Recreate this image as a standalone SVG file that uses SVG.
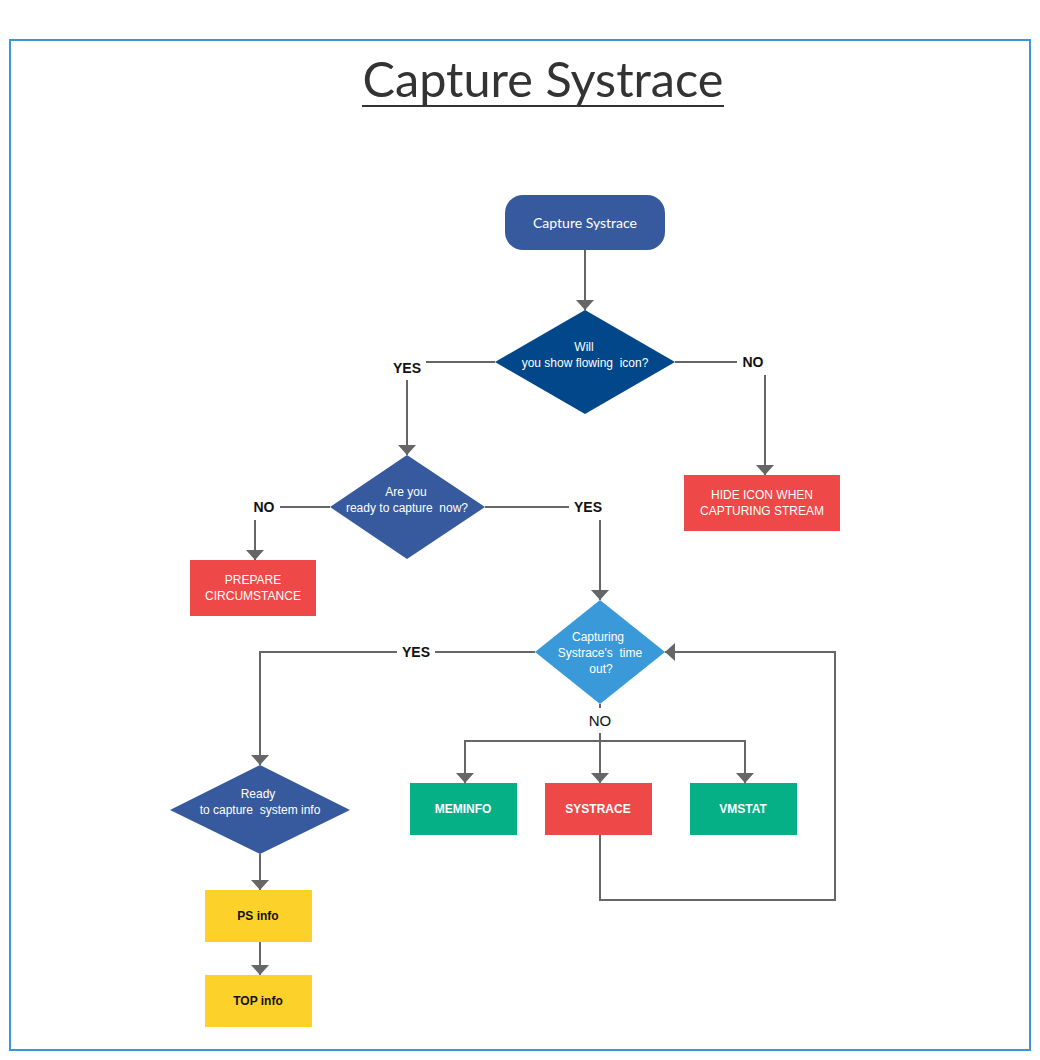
<svg xmlns="http://www.w3.org/2000/svg" width="1040" height="1060" viewBox="0 0 1040 1060">
<defs>
<style>
.ln{fill:none;stroke:#666;stroke-width:2}
.t{font-family:"Liberation Sans",Arial,sans-serif;font-size:12px;fill:#fff;text-anchor:middle}
.tb{font-family:"Liberation Sans",Arial,sans-serif;font-size:12px;font-weight:bold;text-anchor:middle}
.lbl{font-family:"Liberation Sans",Arial,sans-serif;font-size:14px;font-weight:bold;fill:#111;text-anchor:middle}
</style>
<marker id="ah" viewBox="0 0 10 18" refX="10" refY="9" markerWidth="10" markerHeight="18" markerUnits="userSpaceOnUse" orient="auto">
<path d="M0,0 L10,9 L0,18 z" fill="#666"/>
</marker>
</defs>
<rect x="0" y="0" width="1040" height="1060" fill="#fff"/>
<rect x="10" y="40" width="1020" height="1010" fill="none" stroke="#3a96d6" stroke-width="2"/>
<g id="title">
<text x="543" y="97" font-family="Lato, 'Open Sans', sans-serif" font-size="48.6" fill="#333" text-anchor="middle">Capture Systrace</text>
<line x1="362" y1="106" x2="724" y2="106" stroke="#333" stroke-width="2"/>
</g>
<g id="connectors">
<path class="ln" d="M585,250 V310" marker-end="url(#ah)"/>
<path class="ln" d="M495,362 H426"/>
<path class="ln" d="M407,380 V455" marker-end="url(#ah)"/>
<path class="ln" d="M675,362 H737"/>
<path class="ln" d="M765,375 V475" marker-end="url(#ah)"/>
<path class="ln" d="M330,507 H280"/>
<path class="ln" d="M255,520 V560" marker-end="url(#ah)"/>
<path class="ln" d="M485,507 H569"/>
<path class="ln" d="M600,520 V600" marker-end="url(#ah)"/>
<path class="ln" d="M535,652 H435"/>
<path class="ln" d="M397,652 H260 V765" marker-end="url(#ah)"/>
<path class="ln" d="M260,854 V890" marker-end="url(#ah)"/>
<path class="ln" d="M260,942 V975" marker-end="url(#ah)"/>
<path class="ln" d="M600,704 V708"/>
<path class="ln" d="M600,733 V783" marker-end="url(#ah)"/>
<path class="ln" d="M465,783 V741 H745 V783" marker-end="url(#ah)"/>
<path class="ln" d="M465,741 V783" marker-end="url(#ah)"/>
<path class="ln" d="M600,835 V900 H835 V652 H665" marker-end="url(#ah)"/>
<text class="lbl" x="407" y="373">YES</text>
<text class="lbl" x="753" y="367">NO</text>
<text class="lbl" x="264" y="512">NO</text>
<text class="lbl" x="588" y="512">YES</text>
<text class="lbl" x="416" y="657">YES</text>
<text x="600" y="726" font-family="'Liberation Sans',Arial,sans-serif" font-size="15" fill="#111" text-anchor="middle">NO</text>
</g>
<g id="start">
<rect x="505" y="195" width="160" height="55" rx="18" fill="#375a9e"/>
<text x="585" y="228" font-family="Lato, 'Open Sans', sans-serif" font-size="14" fill="#fff" text-anchor="middle">Capture Systrace</text>
</g>
<g id="d1">
<polygon points="585,310 675,362 585,414 495,362" fill="#02478a"/>
<text class="t" x="584" y="351">Will</text>
<text class="t" x="585" y="367" xml:space="preserve">you show flowing  icon?</text>
</g>
<g id="hide">
<rect x="684" y="475" width="156" height="56" fill="#ef4848"/>
<text class="t" x="762" y="499">HIDE ICON WHEN</text>
<text class="t" x="762" y="515">CAPTURING STREAM</text>
</g>
<g id="d2">
<polygon points="407,455 485,507 407,559 330,507" fill="#375a9e"/>
<text class="t" x="406" y="496">Are you</text>
<text class="t" x="407" y="512" xml:space="preserve">ready to capture  now?</text>
</g>
<g id="prepare">
<rect x="190" y="560" width="126" height="56" fill="#ef4848"/>
<text class="t" x="253" y="584">PREPARE</text>
<text class="t" x="253" y="600">CIRCUMSTANCE</text>
</g>
<g id="d3">
<polygon points="600,600 665,652 600,704 535,652" fill="#3a9ad9"/>
<text class="t" x="598" y="641">Capturing</text>
<text class="t" x="600" y="657" xml:space="preserve">Systrace's  time</text>
<text class="t" x="601" y="673">out?</text>
</g>
<g id="d4">
<polygon points="260,765 350,810 260,854 170,810" fill="#375a9e"/>
<text class="t" x="258" y="798">Ready</text>
<text class="t" x="260" y="814" xml:space="preserve">to capture  system info</text>
</g>
<g id="meminfo">
<rect x="410" y="783" width="107" height="52" fill="#05b087"/>
<text class="tb" x="463" y="813" fill="#fff">MEMINFO</text>
</g>
<g id="systrace">
<rect x="545" y="783" width="107" height="52" fill="#ef4848"/>
<text class="tb" x="598" y="813" fill="#fff">SYSTRACE</text>
</g>
<g id="vmstat">
<rect x="690" y="783" width="107" height="52" fill="#05b087"/>
<text class="tb" x="743" y="813" fill="#fff">VMSTAT</text>
</g>
<g id="ps">
<rect x="205" y="890" width="107" height="52" fill="#fcd22a"/>
<text class="tb" x="258" y="920" fill="#111">PS info</text>
</g>
<g id="top">
<rect x="205" y="975" width="107" height="52" fill="#fcd22a"/>
<text class="tb" x="258" y="1005" fill="#111">TOP info</text>
</g>
</svg>
